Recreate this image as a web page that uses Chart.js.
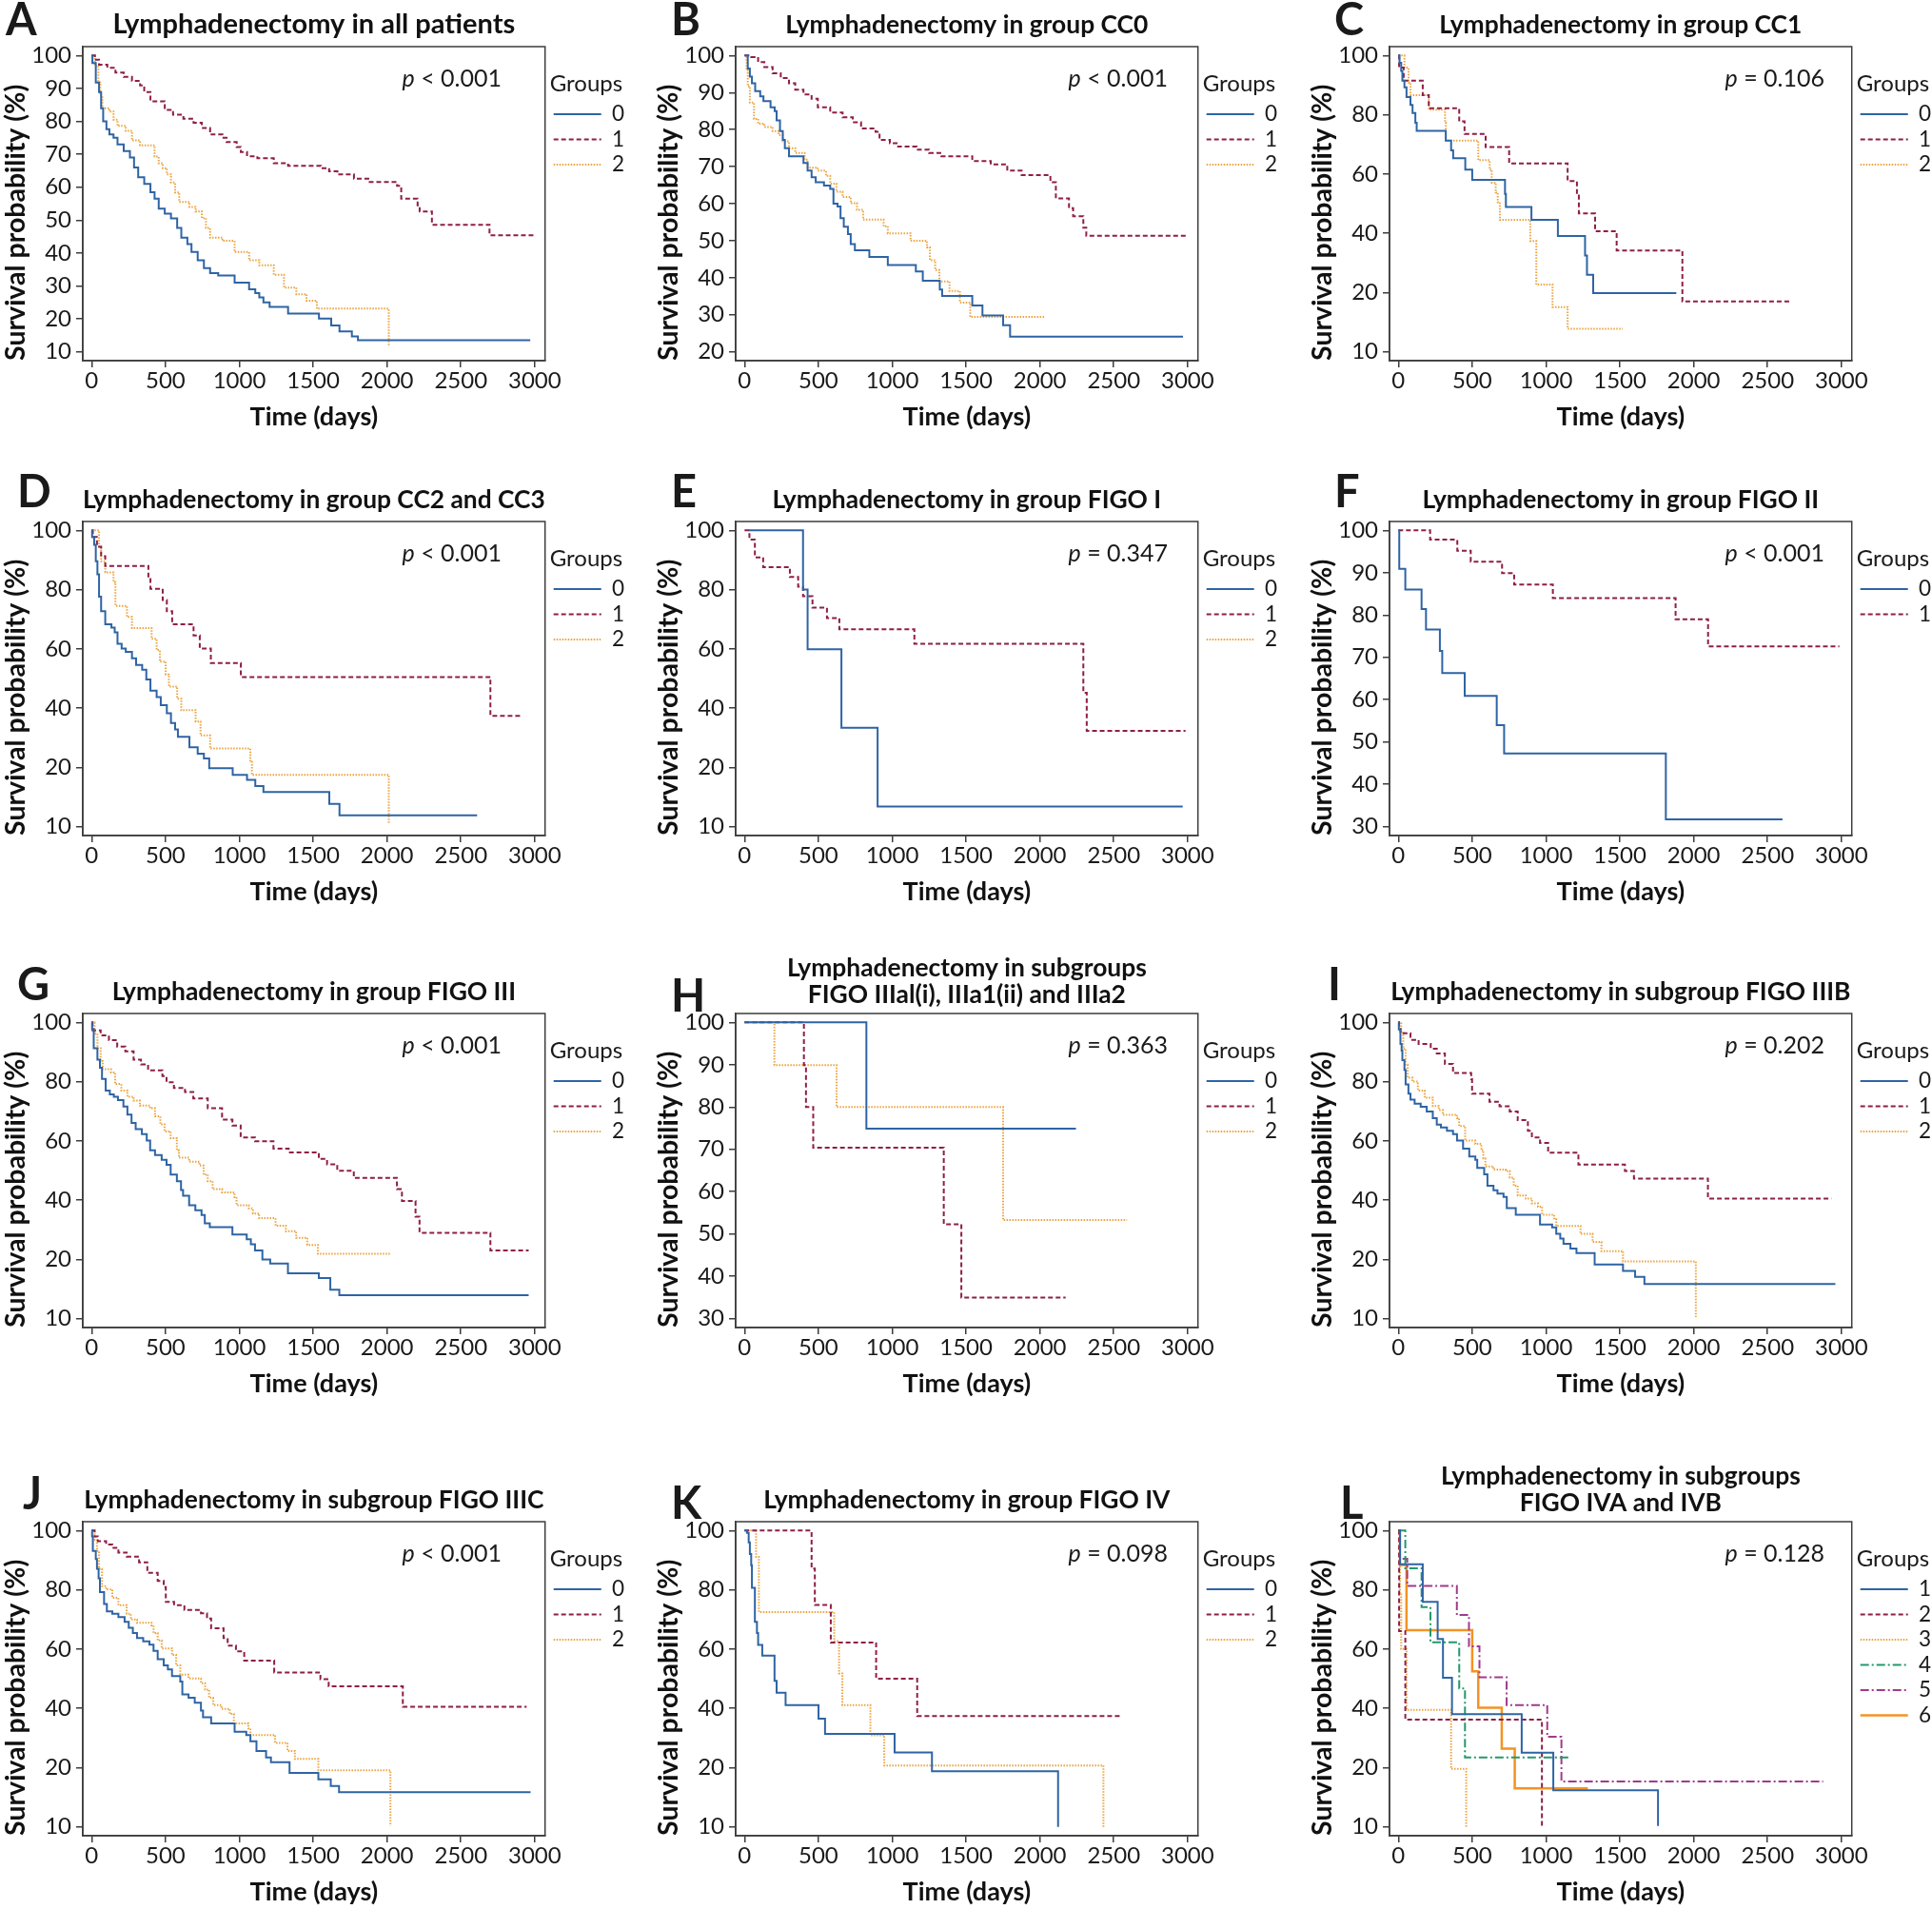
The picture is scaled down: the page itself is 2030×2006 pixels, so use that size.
<!DOCTYPE html>
<html>
<head>
<meta charset="utf-8">
<script src="https://cdn.jsdelivr.net/npm/chart.js@4.4.1/dist/chart.umd.min.js"></script>
<style>
  html, body { margin: 0; padding: 0; background: #fff; width: 2030px; height: 2006px; overflow: hidden; position: relative; }
  canvas { position: absolute; }
</style>
</head>
<body>
<script>
// ---- tick labels ----
const xTicks = [0, 500, 1000, 1500, 2000, 2500, 3000];
const yTicks10 = [10, 20, 30, 40, 50, 60, 70, 80, 90, 100];
const yTicks20 = [20, 30, 40, 50, 60, 70, 80, 90, 100];
const yTicks30 = [30, 40, 50, 60, 70, 80, 90, 100];
const yTicksS = [0, 20, 40, 60, 80, 100];
const yTextS = ['10', '20', '40', '60', '80', '100'];

const groups3 = ['0', '1', '2'];
const groups2 = ['0', '1'];
const groups6 = ['1', '2', '3', '4', '5', '6'];

// ---- survival curves: time (days) and survival (%) ----
// A: all patients
const A0_t = [0,5,28,50,64,78,100,120,148,175,217,259,287,315,356,398,426,454,495,537,579,607,648,676,718,760,802,857,968,1066,1108,1135,1163,1205,1330,1539,1622,1678,1762,1803,2970];
const A0_s = [100,97.7,91.8,88.9,84,80,77.6,76,75,73,71,69,66,63,61,58.5,56.5,53.5,52,50.5,47.6,44.7,42.7,40.3,37.8,35.4,33.9,33.2,31,29,27.8,26.5,25,23.6,21.6,20.1,18,16.2,14.7,13.5,13.5];
const A1_t = [0,22,50,106,161,217,273,328,356,398,495,551,621,690,746,802,885,913,982,1010,1052,1122,1233,1330,1553,1608,1664,1776,1873,2068,2096,2207,2221,2304,2694,3000];
const A1_s = [100,98.7,97.2,96.3,94.8,93.5,92.3,90.9,88.9,86.1,83.5,82,80.8,79.6,78,76,75,73.7,72.2,70.7,69.4,68.8,67.3,66.5,65.8,64.8,63.9,62.6,61.6,60.4,56.5,54.5,52.6,48.6,45.4,45.4];
const A2_t = [0,22,45,58,72,120,148,175,231,273,328,426,454,481,509,537,565,593,662,704,746,774,802,885,968,1066,1135,1233,1302,1386,1455,1525,2012];
const A2_s = [100,96.8,91.8,87.9,84,83,80.5,78.6,77.1,74.2,72.7,69.3,67.3,65.8,63.9,61.4,58.4,55.5,54,52.6,50.6,47.6,44.7,43.7,40.3,37.8,36.3,33.4,29.5,27.5,25.5,23.1,11.5];

// B: CC0
const B0_t = [0,22,36,50,72,106,128,176,204,217,240,259,273,301,399,427,454,482,538,580,602,630,650,672,700,719,747,845,970,1160,1207,1322,1338,1542,1611,1751,1798,2969];
const B0_s = [100,96.5,94.3,92.5,90.4,89,87.7,86,85,82.5,79.6,77.2,75,72.8,71,68.9,67.1,65.8,64.9,64,60,59.2,56.1,53.8,51.8,49.1,47.4,45.6,43.4,41.7,39.2,36.8,35.1,32.5,29.8,27.2,24.1,24.1];
const B1_t = [0,45,92,134,190,245,301,343,399,454,496,580,664,733,789,887,914,984,1040,1165,1249,1333,1542,1667,1779,1876,2071,2108,2197,2225,2294,2314,2991];
const B1_s = [100,99.6,98.2,96.9,95.2,93.9,92.5,90.8,89.5,88.3,86,84.6,83.3,82,80.3,79.4,77.2,76.3,75.4,74.6,73.7,72.8,71.5,70.6,68.9,67.7,65.8,61.4,58.8,56.6,53.5,51.3,51.3];
const B2_t = [0,14,22,36,64,92,134,190,231,259,301,343,407,427,496,552,580,622,664,719,761,803,942,970,1124,1235,1255,1291,1319,1388,1458,1528,2030];
const B2_s = [100,96,91.7,87.3,82.9,81.6,80.7,79.6,78.5,76.8,75,73.7,71.9,69.7,68.9,67.5,65.4,63.2,61.8,60.1,58.3,55.7,53.9,52,50,48.2,44.7,42.1,39,36.4,33.3,29.4,29.4];

// C: CC1
const C0_t = [0,8,19,27,41,55,82,96,115,124,321,357,371,453,500,722,728,901,1080,1264,1277,1319,1882];
const C0_s = [100,97.5,94.8,91.5,89.3,86,83.3,80.6,77.3,74.6,71.3,68,65.3,61.5,58,53.3,48.9,44.5,39.1,32.5,26,19.8,19.8];
const C1_t = [0,5,36,165,206,412,448,591,750,1146,1209,1222,1332,1478,1923,2651];
const C1_s = [100,95.9,91.5,86.6,82.2,77.8,73.5,69.1,63.6,57.6,52.7,46.7,40.7,34.2,17,17];
const C2_t = [0,41,69,82,206,316,321,541,618,632,659,673,687,893,934,1044,1146,1519];
const C2_s = [100,95.9,90.9,86.6,81.7,77.3,71.3,64.7,61.5,57.1,53.8,50.5,44.5,37.4,22.7,15.1,7.8,7.8];

// D: CC2 and CC3
const D0_t = [0,3,17,28,39,50,64,92,134,156,175,203,231,273,301,342,370,398,440,468,509,537,565,584,662,718,760,796,955,1052,1108,1163,1609,1678,2610];
const D0_s = [100,97.8,95.1,89.6,85.2,77.6,72.7,68.3,67.2,65.6,61.7,60.1,59,56.8,54.6,53,49.7,45.9,43.7,41,38.3,35,32.8,30.3,26.8,24.6,23,19.7,17.5,15.8,13.7,11.7,7.7,3.8,3.8];
const D1_t = [0,8,36,64,92,384,398,481,509,545,690,732,807,1010,2700,2917];
const D1_s = [100,97.8,94.5,91.3,88,83.6,80.3,76.5,72.7,68.3,64.5,60.1,55.2,50.5,37.4,37.4];
const D2_t = [0,50,64,92,148,161,239,273,406,440,462,501,523,579,607,704,737,802,1074,1085,2012];
const D2_s = [100,94.5,89.6,85.8,82.5,74.5,70.8,67,63.4,59.6,55.7,51.4,47.3,43.2,39.3,35.5,30.8,26.4,21.9,17.5,1.1];

// E: FIGO I
const E0_t = [28,396,427,656,901,2967];
const E0_s = [100,80,59.9,33.4,6.8,6.8];
const E1_t = [0,33,70,126,307,363,396,460,558,642,1150,2294,2317,2986];
const E1_s = [100,96.9,90.9,87.6,84.3,81,77.8,73.9,70.4,66.6,61.7,45.2,32.3,32.3];
const E2_t = [];
const E2_s = [];

// F: FIGO II
const F0_t = [0,6,47,157,187,281,297,449,666,716,1811,2601];
const F0_s = [100,90.9,86,81.4,76.6,71.5,66.3,60.9,54,47.3,31.7,31.7];
const F1_t = [0,215,399,490,702,784,1046,1877,2097,2986];
const F1_s = [100,97.8,95.2,92.6,89.9,87.2,84,79,72.6,72.6];

// G: FIGO III
const G0_t = [0,3,14,39,56,70,95,123,150,178,215,242,270,298,340,373,396,429,474,507,535,577,605,619,660,702,744,766,800,953,1050,1078,1106,1156,1209,1329,1538,1616,1677,2959];
const G0_s = [100,97.8,91.3,87.4,84.7,80.9,77,75.7,74.9,73.8,71.6,68.9,66.1,64,62.3,60.1,56.8,55.2,53.6,51.9,48.6,46.4,43.4,41.5,38.3,36.6,35,32.2,30.9,28.4,26.8,25.1,23,20,18.6,15.3,13.7,9.8,7.9,7.9];
const G1_t = [0,6,61,117,173,228,284,334,382,479,507,557,632,688,786,883,953,1009,1106,1231,1334,1538,1594,1663,1775,2067,2101,2193,2220,2700,2959];
const G1_s = [100,97.3,95.6,94,91.8,90.2,87.4,85.8,83.8,81.9,79.8,77.9,76.5,74.3,71,67.2,65.2,61.2,59.9,57.4,56.1,53.9,52.1,49.9,47.5,43.7,39.7,34.4,29,23,23];
const G2_t = [0,20,39,61,75,131,159,201,242,284,326,396,429,465,493,535,577,591,660,730,758,786,819,883,967,981,1064,1092,1134,1245,1315,1385,1460,1532,2025];
const G2_s = [100,96.2,91.3,86.9,84.2,83.1,79.2,77,74.9,73.6,71.9,71,68.3,65.6,63.2,60.9,56.8,54.3,53,51.7,48.6,46.4,43.7,42.6,41,38.3,37.2,35.5,33.9,31.4,29.5,27.3,24.9,21.9,21.9];

// H: FIGO IIIa subgroups
const H0_t = [0,825,2244];
const H0_s = [100,74.9,74.9];
const H1_t = [0,402,416,465,1349,1468,2174];
const H1_s = [100,89.9,80,70.4,52.3,35,35];
const H2_t = [0,202,623,1751,2590];
const H2_s = [100,89.9,80,53.3,53.3];

// I: FIGO IIIB
const I0_t = [0,3,14,22,27,41,49,68,82,110,151,192,233,260,288,329,370,397,438,480,521,534,581,603,644,671,712,734,795,959,1041,1069,1096,1118,1165,1206,1329,1521,1603,1666,2959];
const I0_s = [100,97.6,92.7,90.5,87.3,84,79.1,75.9,73.9,72.6,71.5,69.9,67.7,65.5,64.5,63.4,62.3,60.1,57.4,54.7,53.6,50.9,48.7,44.9,43.3,42.2,41.1,37.3,35.1,31.8,30.8,28.6,27,25.3,23.7,22.1,18.3,16.1,14.1,11.7,11.7];
const I1_t = [0,5,14,82,137,219,260,315,370,493,499,617,685,754,808,877,904,959,1014,1219,1534,1595,2096,2932];
const I1_s = [100,98.2,96.3,94.1,92.7,91.1,89.5,86,82.9,80.8,75.9,73.2,71.7,69.9,67,63.4,61.2,59.3,56,52,49.8,47.3,40.5,40.5];
const I2_t = [0,19,33,49,63,96,132,178,233,274,301,397,411,452,521,562,575,589,644,726,754,781,808,863,904,945,973,1055,1069,1233,1315,1375,1521,2014];
const I2_s = [100,96.5,91.1,85.7,81.3,80,77,74.6,71.8,70.4,68.8,67.7,65,60.1,59,56.8,54.1,51.4,50.3,49.8,47.6,44.9,41.6,40.5,38.9,37.8,35.1,33.5,31.3,28.6,25.9,22.8,19.3,0.5];

// J: FIGO IIIC
const J0_t = [0,3,8,28,36,47,56,84,103,140,181,223,251,279,307,349,391,419,447,488,516,544,600,614,656,698,740,754,809,968,1047,1075,1116,1181,1214,1340,1535,1619,1675,2972];
const J0_s = [100,98,93.1,90.4,87.1,83.9,79.2,75.2,72.7,71.9,70.8,69.2,67.2,65.4,63.7,62.6,61.5,59.4,56.6,54.5,53.1,50.9,49,44.7,43.6,41.9,39.2,37,34.9,32.1,31,28.9,25.6,23.4,21.8,18.2,16,13.8,11.7,11.7];
const J1_t = [0,20,42,98,140,181,237,321,377,447,488,502,558,628,740,781,809,893,921,977,1033,1236,1549,1605,2107,2945];
const J1_s = [100,98,96.4,95.3,94.2,92.6,91.2,89.3,85.7,83,80.9,75.9,74.8,73.2,72.1,70.3,67,63.7,61.2,59.2,56.1,52.1,49.8,47.4,40.5,40.5];
const J2_t = [0,20,36,50,70,98,140,181,237,265,307,405,419,447,474,544,572,600,656,740,768,795,823,879,935,963,1061,1075,1242,1326,1376,1535,2023];
const J2_s = [100,96.9,93.1,87.1,81.2,80.1,77.3,74.8,71.9,70,68.9,68,65.4,62.9,60.2,58,54.5,51.4,50.1,48.5,46.3,43.6,41.1,39.8,38.1,34.9,33.2,31,28.3,25.6,22.9,19.1,0.3];

// K: FIGO IV
const K0_t = [0,17,28,36,45,50,70,84,92,120,203,217,278,501,545,1016,1269,2123];
const K0_s = [100,99.2,96,92.1,88.3,80.7,69.2,65.4,61.4,57.8,49.3,45.3,41.1,36.5,31.4,25.1,18.8,0];
const K1_t = [0,454,476,584,891,1169,2555];
const K1_s = [100,87.2,74.9,62.2,50,37.4,37.4];
const K2_t = [0,78,97,607,640,662,852,946,2430];
const K2_s = [100,91.1,72.5,62.7,51.8,41.1,30.9,20.7,0];

// L: FIGO IVA and IVB
const L1_t = [0,11,165,266,302,363,835,1049,1758];
const L1_s = [100,88.6,75.9,63.4,50.3,38,25,12.3,0.3];
const L2_t = [0,5,47,972];
const L2_s = [100,66.1,36.2,0];
const L3_t = [0,11,19,55,357,459];
const L3_s = [100,79,60,39.5,19.6,0];
const L4_t = [0,47,157,217,412,451,1159];
const L4_s = [100,87.3,74.2,62.3,46.7,23.4,23.4];
const L5_t = [0,11,60,396,478,549,733,1008,1104,2876];
const L5_s = [100,90.5,81.3,71.5,60.9,50.5,41.1,30.4,15.3,15.3];
const L6_t = [0,11,55,500,541,700,788,1283];
const L6_s = [100,88.4,66.4,52.5,40.2,26.4,13,13];

// ---- styles and layout ----
const FAMILY = 'Lato, "Open Sans", "DejaVu Sans", sans-serif';
const INK = '#1a1a1a';
const FRAME = '#3c3c3c';

const BLUE = { c: '#2e64a4', d: [], w: 2 };
const MAROON = { c: '#8e1f45', d: [5, 3], w: 2 };
const ORANGE = { c: '#eba441', d: [1.5, 1.5], w: 2 };
const GREEN = { c: '#23996a', d: [9, 3, 2, 3], w: 2 };
const PURPLE = { c: '#a13a8c', d: [9, 3, 2, 3], w: 2 };
const ORANGE_SOLID = { c: '#f39324', d: [], w: 2.5 };
const sty3 = [BLUE, MAROON, ORANGE];
const sty6 = [BLUE, MAROON, ORANGE, GREEN, PURPLE, ORANGE_SOLID];

const COL_LEFT = [0, 686, 1373];
const ROW_TOP = [-21, 478, 995, 1529];
const P_RIGHT = [527, 541, 544];
const W = 680, H = 477;

const panels = [
  { key: 'A', title: 'Lymphadenectomy in all patients', ts: 29, p: '< 0.001', t: [A0_t, A1_t, A2_t], s: [A0_s, A1_s, A2_s], g: groups3, st: sty3, yt: yTicks10, col: 0, row: 0, lx: 6, ly: -29 },
  { key: 'B', title: 'Lymphadenectomy in group CC0', p: '< 0.001', t: [B0_t, B1_t, B2_t], s: [B0_s, B1_s, B2_s], g: groups3, st: sty3, yt: yTicks20, col: 1, row: 0, lx: 19, ly: -29 },
  { key: 'C', title: 'Lymphadenectomy in group CC1', p: '= 0.106', t: [C0_t, C1_t, C2_t], s: [C0_s, C1_s, C2_s], g: groups3, st: sty3, yt: yTicksS, ytx: yTextS, col: 2, row: 0, lx: 29, ly: -29 },
  { key: 'D', title: 'Lymphadenectomy in group CC2 and CC3', p: '< 0.001', t: [D0_t, D1_t, D2_t], s: [D0_s, D1_s, D2_s], g: groups3, st: sty3, yt: yTicksS, ytx: yTextS, col: 0, row: 1, lx: 18, ly: -32 },
  { key: 'E', title: 'Lymphadenectomy in group FIGO I', p: '= 0.347', t: [E0_t, E1_t, E2_t], s: [E0_s, E1_s, E2_s], g: groups3, st: sty3, yt: yTicksS, ytx: yTextS, col: 1, row: 1, lx: 19, ly: -32 },
  { key: 'F', title: 'Lymphadenectomy in group FIGO II', p: '< 0.001', t: [F0_t, F1_t], s: [F0_s, F1_s], g: groups2, st: sty3, yt: yTicks30, col: 2, row: 1, lx: 29, ly: -32 },
  { key: 'G', title: 'Lymphadenectomy in group FIGO III', p: '< 0.001', t: [G0_t, G1_t, G2_t], s: [G0_s, G1_s, G2_s], g: groups3, st: sty3, yt: yTicksS, ytx: yTextS, col: 0, row: 2, lx: 18, ly: -31 },
  { key: 'H', title: ['Lymphadenectomy in subgroups', 'FIGO IIIal(i), IIIa1(ii) and IIIa2'], p: '= 0.363', t: [H0_t, H1_t, H2_t], s: [H0_s, H1_s, H2_s], g: groups3, st: sty3, yt: yTicks30, col: 1, row: 2, lx: 19, ly: -19 },
  { key: 'I', title: 'Lymphadenectomy in subgroup FIGO IIIB', p: '= 0.202', t: [I0_t, I1_t, I2_t], s: [I0_s, I1_s, I2_s], g: groups3, st: sty3, yt: yTicksS, ytx: yTextS, col: 2, row: 2, lx: 22, ly: -31 },
  { key: 'J', title: 'Lymphadenectomy in subgroup FIGO IIIC', p: '< 0.001', t: [J0_t, J1_t, J2_t], s: [J0_s, J1_s, J2_s], g: groups3, st: sty3, yt: yTicksS, ytx: yTextS, col: 0, row: 3, lx: 24, ly: -30 },
  { key: 'K', title: 'Lymphadenectomy in group FIGO IV', p: '= 0.098', t: [K0_t, K1_t, K2_t], s: [K0_s, K1_s, K2_s], g: groups3, st: sty3, yt: yTicksS, ytx: yTextS, col: 1, row: 3, lx: 19, ly: -20 },
  { key: 'L', title: ['Lymphadenectomy in subgroups', 'FIGO IVA and IVB'], p: '= 0.128', t: [L1_t, L2_t, L3_t, L4_t, L5_t, L6_t], s: [L1_s, L2_s, L3_s, L4_s, L5_s, L6_s], g: groups6, st: sty6, yt: yTicksS, ytx: yTextS, col: 2, row: 3, lx: 35, ly: -20 }
];

// frame, p-value and panel letter; legend nudged off the frame
const decor = {
  id: 'decor',
  afterLayout(chart) {
    chart.legend.left += 5;
    chart.legend.right += 5;
  },
  afterDatasetsDraw(chart, args, o) {
    const { ctx, chartArea: a } = chart;
    ctx.save();
    ctx.strokeStyle = FRAME;
    ctx.lineWidth = 1.5;
    ctx.strokeRect(a.left, a.top, a.right - a.left, a.bottom - a.top);

    ctx.fillStyle = INK;
    ctx.textBaseline = 'alphabetic';
    ctx.textAlign = 'left';
    const rest = ' ' + o.p;
    ctx.font = '25px ' + FAMILY;
    const wRest = ctx.measureText(rest).width;
    ctx.font = 'italic 25px ' + FAMILY;
    const wP = ctx.measureText('p').width;
    const y = a.top + 33 + 9;
    ctx.fillText('p', o.pRight - wRest - wP, y);
    ctx.font = '25px ' + FAMILY;
    ctx.fillText(rest, o.pRight - wRest, y);

    ctx.font = 'bold 47px ' + FAMILY;
    ctx.fillText(o.letter, o.lx, a.top + o.ly + 17);
    ctx.restore();
  }
};

// legend entries keep each curve's own dash pattern
function legendItems(chart) {
  const items = Chart.defaults.plugins.legend.labels.generateLabels(chart);
  items.forEach((it) => {
    const ds = chart.data.datasets[it.datasetIndex];
    it.lineDash = ds.borderDash;
    it.lineWidth = ds.borderWidth;
    it.strokeStyle = ds.borderColor;
  });
  return items;
}

panels.forEach((pn) => {
  const cv = document.createElement('canvas');
  cv.width = W;
  cv.height = H;
  cv.style.left = COL_LEFT[pn.col] + 'px';
  cv.style.top = ROW_TOP[pn.row] + 'px';
  document.body.appendChild(cv);

  const datasets = pn.g.map((label, i) => ({
    label,
    data: pn.t[i].map((x, j) => ({ x, y: pn.s[i][j] })),
    borderColor: pn.st[i].c,
    backgroundColor: pn.st[i].c,
    borderWidth: pn.st[i].w,
    borderDash: pn.st[i].d,
    stepped: true,
    pointRadius: 0,
    fill: false,
    tension: 0
  }));

  const yLo = pn.yt[0], yHi = pn.yt[pn.yt.length - 1];
  const pad = 0.03 * (yHi - yLo);
  const twoLines = Array.isArray(pn.title);
  const ts = pn.ts || 26.4;
  const tLine = twoLines ? 1.04 : 1.15;
  const tPad = twoLines ? { top: 9, bottom: 70 - 9 - 2 * ts * tLine } : { top: 47 - ts * tLine / 2, bottom: 23 - ts * tLine / 2 };

  new Chart(cv, {
    type: 'line',
    data: { datasets },
    options: {
      responsive: false,
      animation: false,
      layout: { padding: { left: 0, right: 19, top: 0, bottom: 0 } },
      scales: {
        x: {
          type: 'linear',
          min: -60,
          max: 3070,
          afterBuildTicks: (s) => { s.ticks = xTicks.map((v) => ({ value: v })); },
          afterFit: (s) => { s.height = 77; },
          grid: { drawOnChartArea: false, drawTicks: true, tickLength: 7, color: FRAME, lineWidth: 1.5 },
          border: { display: true, color: FRAME, width: 1.5 },
          ticks: { font: { size: 24, family: FAMILY }, color: INK, padding: 0, maxRotation: 0, autoSkip: false, callback: (v) => String(v) },
          title: { display: true, text: 'Time (days)', font: { size: 27, weight: 'bold', family: FAMILY }, color: '#111', padding: { top: 0, bottom: 2 } }
        },
        y: {
          type: 'linear',
          min: yLo - pad,
          max: yHi + pad,
          afterBuildTicks: (s) => { s.ticks = pn.yt.map((v) => ({ value: v })); },
          afterFit: (s) => { s.width = 87; },
          grid: { drawOnChartArea: false, drawTicks: true, tickLength: 7, color: FRAME, lineWidth: 1.5 },
          border: { display: true, color: FRAME, width: 1.5 },
          ticks: {
            font: { size: 24, family: FAMILY }, color: INK, padding: 5, autoSkip: false,
            callback: (v) => (pn.ytx ? pn.ytx[pn.yt.indexOf(v)] : String(v))
          },
          title: { display: true, text: 'Survival probability (%)', align: 'start', font: { size: 28.5, weight: 'bold', family: FAMILY }, color: '#111', padding: { top: 0, bottom: 0 } }
        }
      },
      plugins: {
        title: {
          display: true,
          text: pn.title,
          fullSize: false,
          color: '#111',
          font: { size: ts, weight: 'bold', family: FAMILY, lineHeight: tLine },
          padding: tPad
        },
        legend: {
          position: 'right',
          align: 'start',
          fullSize: false,
          title: { display: true, text: 'Groups', position: 'start', color: INK, font: { size: 24, family: FAMILY }, padding: { top: 27, bottom: 0 } },
          labels: { usePointStyle: true, pointStyle: 'line', pointStyleWidth: 50, padding: 4, color: INK, font: { size: 22.5, family: FAMILY }, generateLabels: legendItems }
        },
        tooltip: { enabled: false },
        decor: { p: pn.p, pRight: P_RIGHT[pn.col], letter: pn.key, lx: pn.lx, ly: pn.ly }
      }
    },
    plugins: [decor]
  });
});
</script>
</body>
</html>
